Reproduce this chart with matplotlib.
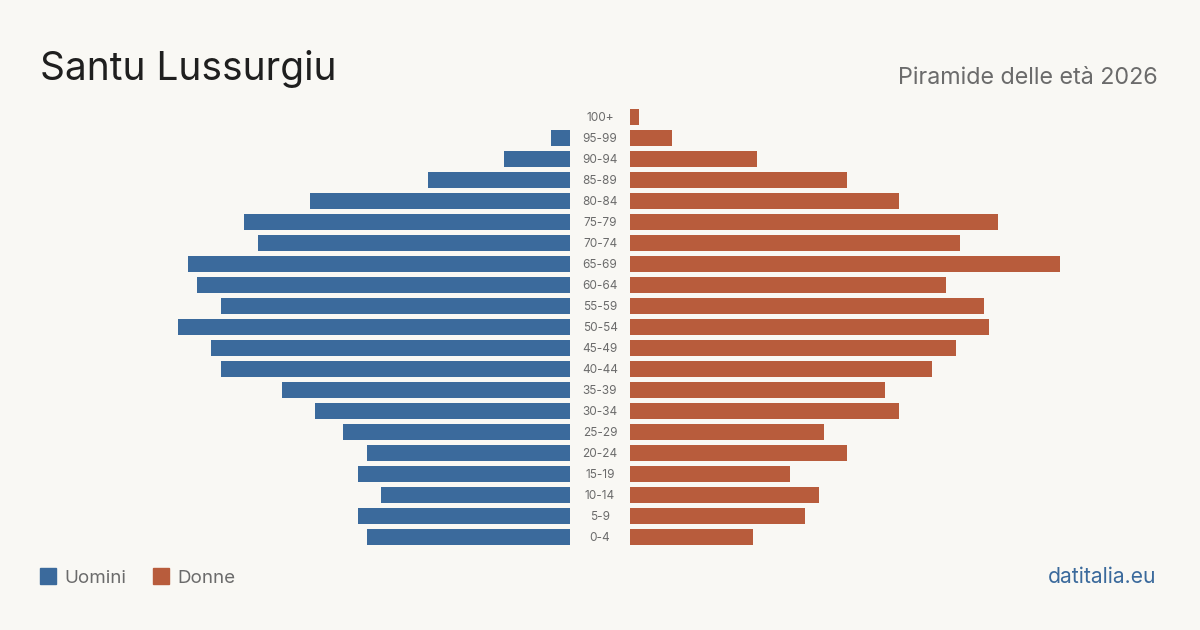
import matplotlib
matplotlib.use("Agg")
import matplotlib.pyplot as plt
from matplotlib.patches import Rectangle

plt.rcParams['font.family'] = ['Inter', 'DejaVu Sans']

age_groups = ["0-4", "5-9", "10-14", "15-19", "20-24", "25-29", "30-34", "35-39",
              "40-44", "45-49", "50-54", "55-59", "60-64", "65-69", "70-74",
              "75-79", "80-84", "85-89", "90-94", "95-99", "100+"]
men = [43, 45, 40, 45, 43, 48, 54, 61, 74, 76, 83, 74, 79, 81, 66, 69, 55, 30, 14, 4, 0]
women = [26, 37, 40, 34, 46, 41, 57, 54, 64, 69, 76, 75, 67, 91, 70, 78, 57, 46, 27, 9, 2]

BG = "#f9f8f4"
MALE = "#3b6a9c"
FEMALE = "#b85c3c"
GRAY = "#6b6b6b"

W, H = 1200, 630
fig = plt.figure(figsize=(W / 100, H / 100), dpi=100, facecolor=BG)

px_per_unit = 4.72
bottom = 1 - 547.5 / H
height = 441 / H
left_l, right_l = 40, 570
left_r, right_r = 630, 1160

axL = fig.add_axes([left_l / W, bottom, (right_l - left_l) / W, height])
axR = fig.add_axes([left_r / W, bottom, (right_r - left_r) / W, height])

y = list(range(len(age_groups)))
axL.barh(y, men, height=0.8, color=MALE)
axR.barh(y, women, height=0.8, color=FEMALE)
axL.set_xlim((right_l - left_l) / px_per_unit, 0)
axR.set_xlim(0, (right_r - left_r) / px_per_unit)
for ax in (axL, axR):
    ax.set_ylim(-0.5, len(age_groups) - 0.5)
    ax.set_facecolor(BG)
    ax.axis("off")

# age labels in the middle
for i, lab in enumerate(age_groups):
    yc = 537 - 21 * i
    fig.text(600 / W, 1 - (yc + 4) / H, lab, ha="center", va="baseline",
             fontsize=8.5, color=GRAY)

fig.text(40 / W, 1 - 80 / H, "Santu Lussurgiu", ha="left", va="baseline",
         fontsize=28, color="#1f1f1f")
fig.text(1158 / W, 1 - 84 / H, "Piramide delle età 2026", ha="right", va="baseline",
         fontsize=16.8, color=GRAY)

# legend
fig.patches.append(Rectangle((40 / W, 1 - 584 / H), 16 / W, 16 / H,
                             transform=fig.transFigure, color=MALE))
fig.text(64 / W, 1 - 583 / H, "Uomini", ha="left", va="baseline", fontsize=13.5, color=GRAY)
fig.patches.append(Rectangle((153 / W, 1 - 584 / H), 16 / W, 16 / H,
                             transform=fig.transFigure, color=FEMALE))
fig.text(177 / W, 1 - 583 / H, "Donne", ha="left", va="baseline", fontsize=13.5, color=GRAY)

fig.text(1156 / W, 1 - 583 / H, "datitalia.eu", ha="right", va="baseline",
         fontsize=15.2, color=MALE)

fig.savefig("out.png", dpi=100, facecolor=BG)
